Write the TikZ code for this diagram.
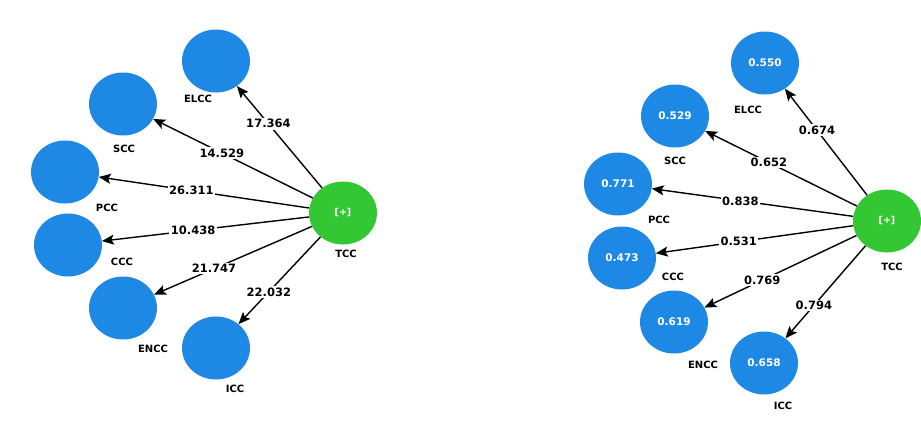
\documentclass[tikz,border=0pt]{standalone}
\usepackage{fontspec}
\setmainfont{DejaVu Sans}
\usetikzlibrary{arrows.meta,shapes.geometric}

\definecolor{lvblue}{RGB}{30,137,229}
\definecolor{lvgreen}{RGB}{51,200,51}

\tikzset{
  lv/.style={ellipse, fill=lvblue, minimum width=68pt, minimum height=63pt,
    inner sep=0pt, text=white, font=\bfseries\fontsize{10.5}{12}\selectfont},
  tcc/.style={lv, fill=lvgreen, font=\bfseries\fontsize{9.5}{11}\selectfont},
  nlab/.style={inner sep=1pt, font=\bfseries\fontsize{10}{11}\selectfont},
  elab/.style={fill=white, inner sep=1.5pt, font=\bfseries\fontsize{11.5}{13}\selectfont},
  lvarrow/.style={-{Stealth[length=12pt,width=10pt,inset=2.5pt]}, line width=1.4pt},
}

\begin{document}
\begin{tikzpicture}[x=1pt,y=-1pt]
  \useasboundingbox[fill=white] (0,0) rectangle (921,421);

  % left: t values
  \node[lv]  (elccA) at (216,61)  {};
  \node[lv]  (sccA)  at (123,104) {};
  \node[lv]  (pccA)  at (65,172)  {};
  \node[lv]  (cccA)  at (68,245)  {};
  \node[lv]  (enccA) at (123,308) {};
  \node[lv]  (iccA)  at (216,348) {};
  \node[tcc] (tccA)  at (343,213) {[+]};

  \node[nlab] (elccA-t) at ([shift={(-18,38)}]elccA.center) {ELCC};
  \node[nlab] (sccA-t)  at ([shift={(1,45)}]sccA.center)    {SCC};
  \node[nlab] (pccA-t)  at ([shift={(42,36)}]pccA.center)   {PCC};
  \node[nlab] (cccA-t)  at ([shift={(54,17)}]cccA.center)   {CCC};
  \node[nlab] (enccA-t) at ([shift={(30,41)}]enccA.center)  {ENCC};
  \node[nlab] (iccA-t)  at ([shift={(19,41)}]iccA.center)   {ICC};
  \node[nlab] (tccA-t)  at ([shift={(3,41)}]tccA.center)    {TCC};

  \draw[lvarrow] (tccA) -- node[elab,pos=0.63] (a1) {17.364} (elccA);
  \draw[lvarrow] (tccA) -- node[elab,pos=0.57] (a2) {14.529} (sccA);
  \draw[lvarrow] (tccA) -- node[elab,pos=0.56] (a3) {26.311} (pccA);
  \draw[lvarrow] (tccA) -- node[elab,pos=0.56] (a4) {10.438} (cccA);
  \draw[lvarrow] (tccA) -- node[elab,pos=0.62] (a5) {21.747} (enccA);
  \draw[lvarrow] (tccA) -- node[elab,pos=0.63] (a6) {22.032} (iccA);

  % right: loadings
  \node[lv]  (elccB) at (765,63)  {0.550};
  \node[lv]  (sccB)  at (675,116) {0.529};
  \node[lv]  (pccB)  at (618,184) {0.771};
  \node[lv]  (cccB)  at (622,258) {0.473};
  \node[lv]  (enccB) at (674,322) {0.619};
  \node[lv]  (iccB)  at (764,363) {0.658};
  \node[tcc] (tccB)  at (887,221) {[+]};

  \node[nlab] (elccB-t) at ([shift={(-17,47)}]elccB.center) {ELCC};
  \node[nlab] (sccB-t)  at ([shift={(0,45)}]sccB.center)    {SCC};
  \node[nlab] (pccB-t)  at ([shift={(41,36)}]pccB.center)   {PCC};
  \node[nlab] (cccB-t)  at ([shift={(51,19)}]cccB.center)   {CCC};
  \node[nlab] (enccB-t) at ([shift={(29,43)}]enccB.center)  {ENCC};
  \node[nlab] (iccB-t)  at ([shift={(19,43)}]iccB.center)   {ICC};
  \node[nlab] (tccB-t)  at ([shift={(5,46)}]tccB.center)    {TCC};

  \draw[lvarrow] (tccB) -- node[elab,pos=0.61]  (b1) {0.674} (elccB);
  \draw[lvarrow] (tccB) -- node[elab,pos=0.58]  (b2) {0.652} (sccB);
  \draw[lvarrow] (tccB) -- node[elab,pos=0.56]  (b3) {0.838} (pccB);
  \draw[lvarrow] (tccB) -- node[elab,pos=0.58]  (b4) {0.531} (cccB);
  \draw[lvarrow] (tccB) -- node[elab,pos=0.62]  (b5) {0.769} (enccB);
  \draw[lvarrow] (tccB) -- node[elab,pos=0.645] (b6) {0.794} (iccB);

\end{tikzpicture}
\end{document}
